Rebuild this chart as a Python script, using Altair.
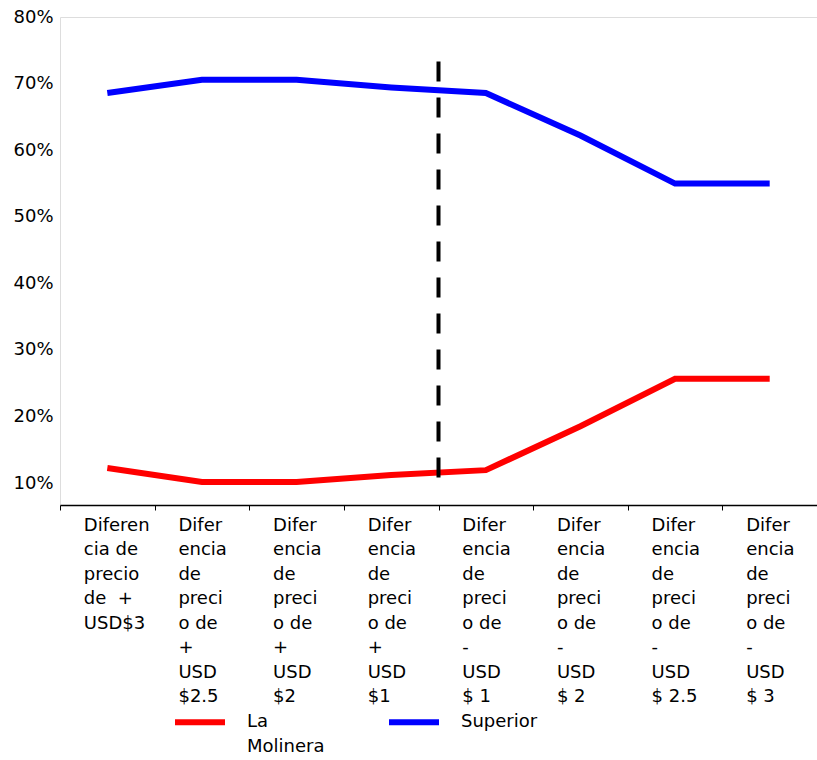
import altair as alt
import pandas as pd

categories = [
    "Diferen\ncia de\nprecio\nde \u00a0+\nUSD$3",
    "Difer\nencia\nde\npreci\no de\n+\nUSD\n$2.5",
    "Difer\nencia\nde\npreci\no de\n+\nUSD\n$2",
    "Difer\nencia\nde\npreci\no de\n+\nUSD\n$1",
    "Difer\nencia\nde\npreci\no de\n-\nUSD\n$ 1",
    "Difer\nencia\nde\npreci\no de\n-\nUSD\n$ 2",
    "Difer\nencia\nde\npreci\no de\n-\nUSD\n$ 2.5",
    "Difer\nencia\nde\npreci\no de\n-\nUSD\n$ 3",
]
series = ["La Molinera", "Superior"]
la_molinera = [0.153, 0.133, 0.133, 0.143, 0.150, 0.213, 0.281, 0.281]
superior = [0.691, 0.710, 0.710, 0.699, 0.691, 0.630, 0.561, 0.561]
y_ticks = [0.1, 0.2, 0.3, 0.4, 0.5, 0.6, 0.7, 0.8]
divider_after = categories[3]
divider_top = 0.736
divider_bottom = 0.121

rows = []
for name, vals in zip(series, [la_molinera, superior]):
    for c, v in zip(categories, vals):
        rows.append({"cat": c, "series": name, "value": v})
df = pd.DataFrame(rows)
div_df = pd.DataFrame({"cat": [divider_after], "top": [divider_top], "bottom": [divider_bottom]})

FONT = "DejaVu Sans"

x_axis = alt.Axis(
    title=None, labelExpr="split(datum.label, '\\n')", labelAlign="left",
    labelOffset=-24, labelBaseline="top", labelPadding=6, labelLineHeight=24.5,
    labelFontSize=18, labelFont=FONT, labelColor="black", tickBand="extent", tickSize=5,
    tickColor="black", tickWidth=1, domainColor="black", domainWidth=1.5,
    labelAngle=0, labelOverlap=False, labelLimit=300, grid=False,
)
x_scale = alt.Scale(type="band", paddingInner=0, paddingOuter=0)

y_scale = alt.Scale(domain=[0.1, 0.8], nice=False, zero=False)

lines = alt.Chart(df).mark_line(strokeWidth=6, strokeCap="butt").encode(
    x=alt.X("cat:N", sort=categories, scale=x_scale, axis=x_axis),
    y=alt.Y("value:Q", scale=y_scale, axis=alt.Axis(
        title=None, values=y_ticks, labels=False, tickSize=6, tickColor="black",
        domainColor="black", domainWidth=1.5, grid=False)),
    color=alt.Color("series:N", scale=alt.Scale(domain=series, range=["#ff0000", "#0000ff"]),
                    legend=alt.Legend(
                        title=None, orient="none", legendX=112, legendY=677,
                        direction="horizontal", symbolType="stroke", symbolSize=2500,
                        symbolStrokeWidth=6, labelFontSize=18, labelFont=FONT,
                        labelColor="black", labelOffset=19, columnPadding=52,
                        labelBaseline="middle", padding=0,
                        labelExpr="indexof(datum.label, ' ') > 0 ? split(datum.label, ' ') : [datum.label, '']",
                    )),
)

rule = alt.Chart(div_df).mark_rule(color="black", strokeWidth=4, strokeDash=[20, 16]).encode(
    x=alt.X("cat:N", sort=categories, scale=x_scale, axis=x_axis, bandPosition=1),
    y=alt.Y("top:Q", scale=y_scale, axis=None),
    y2="bottom:Q",
)

inner = alt.layer(lines, rule)

labels_layer = alt.Chart(df).mark_point(opacity=0).encode(
    x=alt.X("cat:N", sort=categories, scale=x_scale, axis=x_axis),
    y=alt.Y("value:Q", scale=alt.Scale(domain=[0.067, 0.8], nice=False, zero=False),
            axis=alt.Axis(title=None, orient="left", values=y_ticks, format=".0%",
                          tickSize=0, domain=False, labelPadding=7, labelFontSize=18,
                          labelFont=FONT, labelColor="black", grid=False)),
)

chart = alt.layer(inner, labels_layer).resolve_scale(y="independent").properties(
    width=757, height=488,
    autosize=alt.AutoSizeParams(type="none"),
    padding={"left": 60, "top": 17, "right": 0, "bottom": 255},
).configure_view(stroke=None).configure(
    font=FONT, background="white",
    style={"guide-label": {"lineHeight": 24.5}},
)

chart.save("out.html", embed_options={"renderer": "svg", "actions": False})
